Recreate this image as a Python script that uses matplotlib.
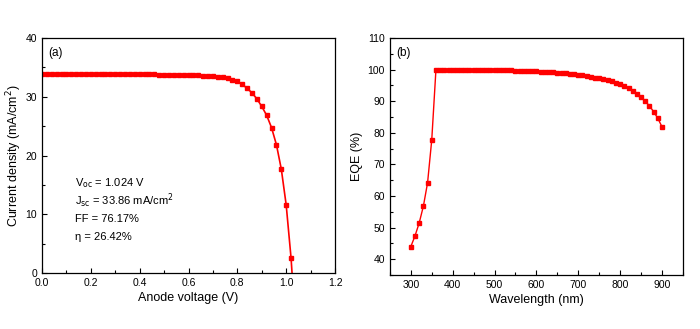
import matplotlib
matplotlib.use("Agg")
import matplotlib.pyplot as plt
from matplotlib.ticker import MultipleLocator

plt.rcParams["font.family"] = ["Liberation Sans", "DejaVu Sans"]

# ── panel (a): J-V curve ──────────────────────────────────────────────────────
voltage = [0.00, 0.02, 0.04, 0.06, 0.08, 0.10, 0.12, 0.14, 0.16, 0.18,
           0.20, 0.22, 0.24, 0.26, 0.28, 0.30, 0.32, 0.34, 0.36, 0.38,
           0.40, 0.42, 0.44, 0.46, 0.48, 0.50, 0.52, 0.54, 0.56, 0.58,
           0.60, 0.62, 0.64, 0.66, 0.68, 0.70, 0.72, 0.74, 0.76, 0.78,
           0.80, 0.82, 0.84, 0.86, 0.88, 0.90, 0.92, 0.94, 0.96, 0.98,
           1.00, 1.02, 1.024]
current = [33.86, 33.86, 33.86, 33.86, 33.86, 33.86, 33.85, 33.85, 33.85, 33.85,
           33.84, 33.84, 33.84, 33.84, 33.83, 33.83, 33.83, 33.82, 33.82, 33.81,
           33.81, 33.80, 33.80, 33.79, 33.78, 33.77, 33.76, 33.75, 33.74, 33.72,
           33.70, 33.68, 33.65, 33.61, 33.56, 33.50, 33.42, 33.30, 33.15, 32.92,
           32.60, 32.10, 31.45, 30.65, 29.65, 28.35, 26.85, 24.75, 21.85, 17.70,
           11.60, 2.55, 0.0]

# ── panel (b): EQE ────────────────────────────────────────────────────────────
wavelength = list(range(300, 910, 10))
eqe = [44.0, 47.4, 51.5, 56.8, 64.2, 77.8,                       # 300-350
       100.0, 100.0, 100.0, 100.0, 99.98,                         # 360-400
       99.97, 99.96, 99.95, 99.94, 99.93, 99.92, 99.90, 99.88, 99.86, 99.84,
       99.82, 99.80, 99.77, 99.74, 99.71, 99.67, 99.62, 99.57, 99.51, 99.45,
       99.38, 99.30, 99.22, 99.13, 99.03, 98.92, 98.80, 98.66, 98.50, 98.33,
       98.14, 97.94, 97.72, 97.48, 97.22, 96.94, 96.63, 96.29, 95.90, 95.45,
       94.90, 94.10, 93.30, 92.40, 91.30, 90.00, 88.50, 86.70, 84.60, 81.90]

stats = ["V$_{\\rm oc}$ = 1.024 V",
         "J$_{\\rm sc}$ = 33.86 mA/cm$^2$",
         "FF = 76.17%",
         "η = 26.42%"]

RED = "#ff0000"

fig = plt.figure(figsize=(7.0, 3.29), dpi=100)
ax1 = fig.add_axes([0.060, 0.170, 0.4186, 0.7145])
ax2 = fig.add_axes([0.557, 0.164, 0.4186, 0.7205])


def style_axes(ax):
    ax.tick_params(which="both", direction="in", top=False, right=False,
                   labelsize=7.5, width=0.8)
    ax.tick_params(which="major", length=3.5)
    ax.tick_params(which="minor", length=2)
    for s in ax.spines.values():
        s.set_linewidth(0.9)


ax1.plot(voltage, current, color=RED, lw=1.2, marker="s", ms=2.6,
         markevery=list(range(len(voltage) - 1)))
ax1.set_xlim(0, 1.2)
ax1.set_ylim(0, 40)
ax1.xaxis.set_major_locator(MultipleLocator(0.2))
ax1.xaxis.set_minor_locator(MultipleLocator(0.1))
ax1.yaxis.set_major_locator(MultipleLocator(10))
ax1.yaxis.set_minor_locator(MultipleLocator(5))
ax1.xaxis.set_major_formatter(lambda v, p: f"{v:.1f}")
ax1.set_xlabel("Anode voltage (V)", fontsize=9, labelpad=3)
ax1.set_ylabel("Current density (mA/cm$^2$)", fontsize=9, labelpad=1)
style_axes(ax1)
ax1.text(0.022, 0.935, "(a)", transform=ax1.transAxes, fontsize=8.5, va="center")
for i, s in enumerate(stats):
    ax1.text(0.113, 0.383 - i * 0.077, s, transform=ax1.transAxes,
             fontsize=8, va="center")

ax2.plot(wavelength, eqe, color=RED, lw=1.0, marker="s", ms=2.6)
ax2.set_xlim(250, 950)
ax2.set_ylim(35, 110)
ax2.xaxis.set_major_locator(MultipleLocator(100))
ax2.xaxis.set_minor_locator(MultipleLocator(50))
ax2.yaxis.set_minor_locator(MultipleLocator(5))
ax2.set_yticks(range(40, 111, 10))
ax2.set_xticks(range(300, 901, 100))
ax2.set_xlabel("Wavelength (nm)", fontsize=9, labelpad=3)
ax2.set_ylabel("EQE (%)", fontsize=9, labelpad=3)
style_axes(ax2)
ax2.text(0.022, 0.935, "(b)", transform=ax2.transAxes, fontsize=8.5, va="center")

fig.savefig("out.png", dpi=100)
